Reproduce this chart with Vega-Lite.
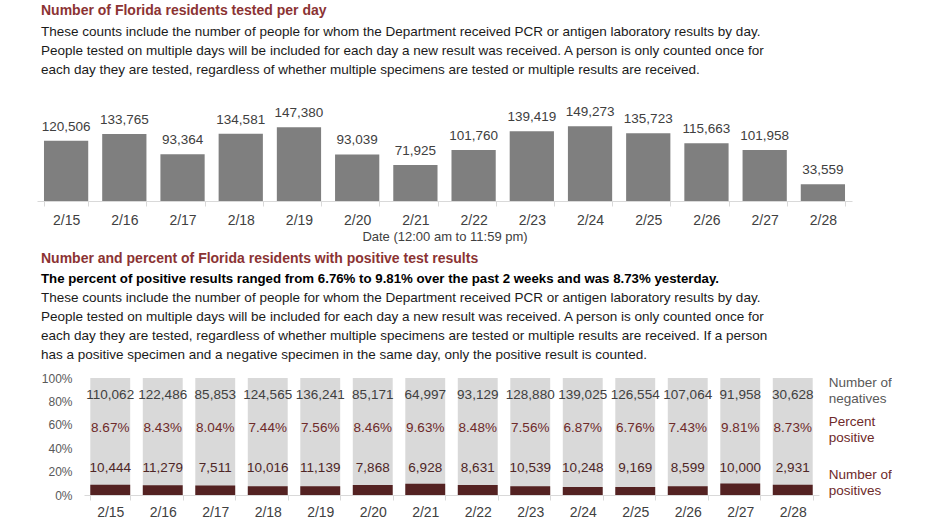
{
  "$schema": "https://vega.github.io/schema/vega-lite/v6.json",
  "padding": {"left": 37, "top": 3, "right": 0, "bottom": 0},
  "config": {
    "font": "Liberation Sans",
    "view": {"stroke": null},
    "axis": {"labelOverlap": false}
  },
  "data": {"values": [
    {"date": "2/15", "tested": 120506, "negatives": 110062, "positives": 10444, "pct": 0.0867},
    {"date": "2/16", "tested": 133765, "negatives": 122486, "positives": 11279, "pct": 0.0843},
    {"date": "2/17", "tested": 93364, "negatives": 85853, "positives": 7511, "pct": 0.0804},
    {"date": "2/18", "tested": 134581, "negatives": 124565, "positives": 10016, "pct": 0.0744},
    {"date": "2/19", "tested": 147380, "negatives": 136241, "positives": 11139, "pct": 0.0756},
    {"date": "2/20", "tested": 93039, "negatives": 85171, "positives": 7868, "pct": 0.0846},
    {"date": "2/21", "tested": 71925, "negatives": 64997, "positives": 6928, "pct": 0.0963},
    {"date": "2/22", "tested": 101760, "negatives": 93129, "positives": 8631, "pct": 0.0848},
    {"date": "2/23", "tested": 139419, "negatives": 128880, "positives": 10539, "pct": 0.0756},
    {"date": "2/24", "tested": 149273, "negatives": 139025, "positives": 10248, "pct": 0.0687},
    {"date": "2/25", "tested": 135723, "negatives": 126554, "positives": 9169, "pct": 0.0676},
    {"date": "2/26", "tested": 115663, "negatives": 107064, "positives": 8599, "pct": 0.0743},
    {"date": "2/27", "tested": 101958, "negatives": 91958, "positives": 10000, "pct": 0.0981},
    {"date": "2/28", "tested": 33559, "negatives": 30628, "positives": 2931, "pct": 0.0873}
  ]},
  "spacing": 9,
  "vconcat": [
    {
      "width": 815,
      "height": 110,
      "title": {
        "text": "Number of Florida residents tested per day",
        "subtitle": [
          "These counts include the number of people for whom the Department received PCR or antigen laboratory results by day.",
          "People tested on multiple days will be included for each day a new result was received. A person is only counted once for",
          "each day they are tested, regardless of whether multiple specimens are tested or multiple results are received."
        ],
        "anchor": "start",
        "frame": "group",
        "dx": 4,
        "color": "#8b3333",
        "fontSize": 14,
        "fontWeight": "bold",
        "subtitleColor": "#1a1a1a",
        "subtitleFontSize": 13.5,
        "subtitleLineHeight": 19,
        "subtitlePadding": 7,
        "offset": 15
      },
      "encoding": {
        "x": {
          "field": "date", "type": "ordinal", "sort": null,
          "scale": {"paddingInner": 0.24, "paddingOuter": 0.12},
          "axis": {
            "title": "Date (12:00 am to 11:59 pm)",
            "labelAngle": 0, "labelFontSize": 14, "labelColor": "#404040", "labelPadding": 7,
            "domainColor": "#d9d9d9", "tickColor": "#d9d9d9", "tickBand": "extent", "tickSize": 5,
            "titleFontSize": 13, "titleFontWeight": "normal", "titleColor": "#404040", "titlePadding": 3
          }
        }
      },
      "layer": [
        {
          "mark": {"type": "bar", "color": "#7f7f7f"},
          "encoding": {
            "y": {"field": "tested", "type": "quantitative", "scale": {"domain": [0, 219000]}, "axis": null}
          }
        },
        {
          "mark": {"type": "text", "baseline": "bottom", "dy": -7, "fontSize": 13.5, "color": "#404040"},
          "encoding": {
            "y": {"field": "tested", "type": "quantitative"},
            "text": {"field": "tested", "type": "quantitative", "format": ","}
          }
        }
      ]
    },
    {
      "title": {
        "text": "Number and percent of Florida residents with positive test results",
        "anchor": "start",
        "frame": "group",
        "dx": 4,
        "color": "#8b3333",
        "fontSize": 14,
        "fontWeight": "bold",
        "offset": 6
      },
      "spacing": 0,
      "hconcat": [
        {
          "width": 4,
          "height": 1,
          "data": {"values": []},
          "mark": {"type": "text", "text": ""},
          "encoding": {}
        },
        {
          "width": 735,
          "height": 117,
          "title": {
            "text": "The percent of positive results ranged from 6.76% to 9.81% over the past 2 weeks and was 8.73% yesterday.",
            "subtitle": [
              "These counts include the number of people for whom the Department received PCR or antigen laboratory results by day.",
              "People tested on multiple days will be included for each day a new result was received. A person is only counted once for",
              "each day they are tested, regardless of whether multiple specimens are tested or multiple results are received. If a person",
              "has a positive specimen and a negative specimen in the same day, only the positive result is counted."
            ],
            "anchor": "start",
            "frame": "group",
            "dx": -43,
            "color": "#000000",
            "fontSize": 13.25,
            "fontWeight": "bold",
            "subtitleColor": "#1a1a1a",
            "subtitleFontSize": 13.5,
            "subtitleLineHeight": 19,
            "subtitlePadding": 4,
            "offset": 10
          },
          "encoding": {
            "x": {
              "field": "date", "type": "ordinal", "sort": null,
              "scale": {"paddingInner": 0.24, "paddingOuter": 0.12},
              "axis": {
                "title": null,
                "labelAngle": 0, "labelFontSize": 14, "labelColor": "#404040", "labelPadding": 5,
                "domainColor": "#d9d9d9", "tickColor": "#d9d9d9", "tickBand": "extent", "tickSize": 5
              }
            }
          },
          "layer": [
            {
              "mark": {"type": "bar", "color": "#d9d9d9"},
              "encoding": {
                "y": {
                  "datum": 1, "type": "quantitative",
                  "scale": {"domain": [0, 1]},
                  "axis": {
                    "title": null, "format": ".0%", "values": [0, 0.2, 0.4, 0.6, 0.8, 1], "tickCount": 6,
                    "domain": false, "ticks": false, "grid": false, "labelOverlap": false, "labelSeparation": 0,
                    "labelFontSize": 12, "labelColor": "#595959", "labelPadding": 12
                  }
                }
              }
            },
            {
              "mark": {"type": "bar", "color": "#542222"},
              "encoding": {
                "y": {
                  "field": "pct", "type": "quantitative",
                  "axis": {
                    "title": null, "format": ".0%", "values": [0, 0.2, 0.4, 0.6, 0.8, 1], "tickCount": 6,
                    "domain": false, "ticks": false, "grid": false, "labelOverlap": false, "labelSeparation": 0,
                    "labelFontSize": 12, "labelColor": "#595959", "labelPadding": 12
                  }
                }
              }
            },
            {
              "mark": {"type": "text", "fontSize": 13.5, "color": "#404040", "baseline": "middle"},
              "encoding": {
                "y": {"datum": 0.855, "type": "quantitative"},
                "text": {"field": "negatives", "type": "quantitative", "format": ","}
              }
            },
            {
              "mark": {"type": "text", "fontSize": 13.5, "color": "#6e2a2a", "baseline": "middle"},
              "encoding": {
                "y": {"datum": 0.575, "type": "quantitative"},
                "text": {"field": "pct", "type": "quantitative", "format": ".2%"}
              }
            },
            {
              "mark": {"type": "text", "fontSize": 13.5, "color": "#4e2626", "baseline": "middle"},
              "encoding": {
                "y": {"datum": 0.233, "type": "quantitative"},
                "text": {"field": "positives", "type": "quantitative", "format": ","}
              }
            },
            {
              "data": {"values": [
                {"label": "Number of\nnegatives", "level": 0.957, "kind": "neg"},
                {"label": "Percent\npositive", "level": 0.624, "kind": "pct"},
                {"label": "Number of\npositives", "level": 0.171, "kind": "pos"}
              ]},
              "mark": {"type": "text", "align": "left", "baseline": "middle", "dx": 36, "fontSize": 13.5, "lineHeight": 16, "lineBreak": "\n"},
              "encoding": {
                "x": {"datum": "2/28", "type": "ordinal"},
                "y": {"field": "level", "type": "quantitative"},
                "text": {"field": "label"},
                "color": {
                  "condition": {"test": "datum.kind === 'neg'", "value": "#595959"},
                  "value": "#6e2a2a"
                }
              }
            }
          ]
        }
      ]
    }
  ]
}
